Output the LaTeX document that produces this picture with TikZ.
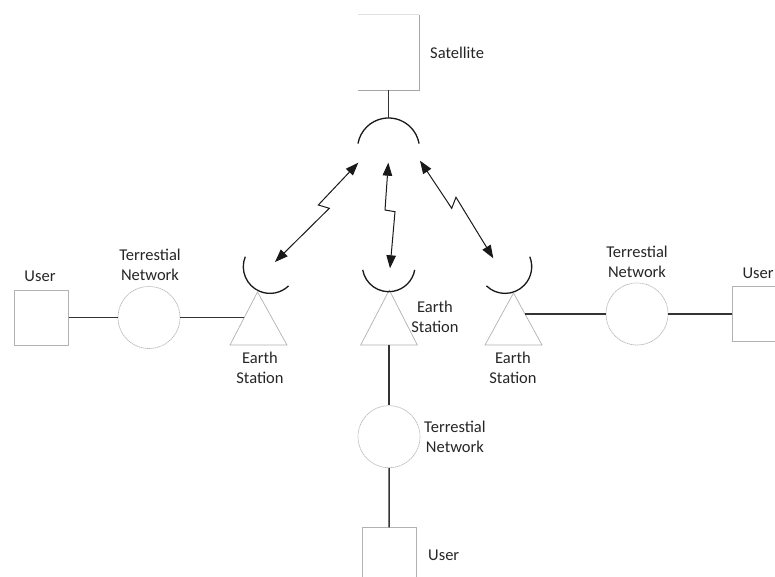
\documentclass[tikz,border=0pt]{standalone}
\usepackage{fontspec}
\setmainfont{Carlito}
\usetikzlibrary{arrows.meta}
\begin{document}
\begin{tikzpicture}[x=1pt,y=1pt,
  lbl/.style={font=\fontsize{16.5}{20}\selectfont, text=black!85, align=center, inner sep=0pt},
  boxshape/.style={draw=gray!60, line width=0.8pt, minimum width=54pt, minimum height=55pt, inner sep=0pt},
  netshape/.style={circle, draw=gray!55, line width=0.7pt, dash pattern=on 1.4pt off 0.6pt, minimum size=62pt, inner sep=0pt},
  antenna/.style={draw=gray!60, line width=0.7pt},
  dishline/.style={draw=black!90, line width=1.3pt},
  wire/.style={draw=black!80, line width=1.5pt},
  link/.style={draw=black!90, line width=1pt, {Triangle[length=13pt,width=9.5pt]}-{Triangle[length=13pt,width=9.5pt]}}
]
\clip (0,0) rectangle (775,577);
\fill[white] (0,0) rectangle (775,577);

% satellite body
\node (satbox) at (388.5,524.5) [minimum width=61pt, minimum height=75pt, inner sep=0pt] {};
\draw[gray!25, line width=0.8pt] (satbox.north west) -- (satbox.north east);
\draw[gray!70, line width=0.9pt] (satbox.north east) -- (satbox.south east) -- (satbox.south west);
\node[lbl, anchor=west] (satlbl) at (430,524) {Satellite};

% satellite dish
\coordinate (sattop) at (388.5,459);
\draw[dishline] (388.5,428) ++(10:31) arc (10:170:31);
\draw[wire] (satbox.south) -- (sattop);

% left earth station
\draw[antenna] (230,232) -- (257.5,285) coordinate (lapex) -- (287,232) -- cycle;
\draw[dishline] (270,310.3) ++(158:26.7) arc (158:314:26.7);
\coordinate (lside) at (244,259.5);
\node[lbl] (learth) at (260,209) {Earth\\Station};
\node[netshape] (lnet) at (149,259.5) {};
\node[lbl] (lnetlbl) at (150,312) {Terrestial\\Network};
\node[boxshape] (luser) at (41.3,259.5) {};
\node[lbl] (luserlbl) at (40,300.3) {User};
\draw[wire] (luser.east) -- (lnet.west);
\draw[wire] (lnet.east) -- (lside);

% middle earth station
\draw[antenna] (360.7,232) -- (389.3,287) -- (417.3,232) -- cycle;
\draw[dishline] (388.7,311.7) ++(190:26.4) arc (190:350:26.4);
\coordinate (mbase) at (389,232);
\node[lbl] (mearth) at (435,260) {Earth\\Station};
\node[netshape] (mnet) at (389,140.3) {};
\node[lbl, anchor=west] (mnetlbl) at (424,140.3) {Terrestial\\Network};
\node[boxshape] (muser) at (389.2,21.8) {};
\node[lbl, anchor=west] (muserlbl) at (428,22) {User};
\draw[wire] (mbase) -- (mnet.north);
\draw[wire] (mnet.south) -- (muser.north);

% right earth station
\draw[antenna] (485,232) -- (513.5,284) -- (542,232) -- cycle;
\draw[dishline] (505,310.3) ++(-134:26.7) arc (-134:22:26.7);
\coordinate (rside) at (525,263);
\node[lbl] (rearth) at (513,209) {Earth\\Station};
\node[netshape] (rnet) at (637,263) {};
\node[lbl] (rnetlbl) at (637,315) {Terrestial\\Network};
\node[boxshape] (ruser) at (759.3,263) {};
\node[lbl] (ruserlbl) at (758,304) {User};
\draw[wire] (rside) -- (rnet.west);
\draw[wire] (rnet.east) -- (ruser.west);

% radio links
\coordinate (lend) at (275,315);
\coordinate (lsat) at (358.3,414.3);
\coordinate (mend) at (390,308.7);
\coordinate (msat) at (388.3,414.3);
\coordinate (rend) at (493.3,318.7);
\coordinate (rsat) at (420,416.3);
\draw[link] (lend) -- (329.3,368.7) -- (318.3,372) -- (lsat);
\draw[link] (msat) -- (385,367) -- (395,365.3) -- (mend);
\draw[link] (rsat) -- (451.7,368.7) -- (456,379.7) -- (rend);
\end{tikzpicture}
\end{document}
